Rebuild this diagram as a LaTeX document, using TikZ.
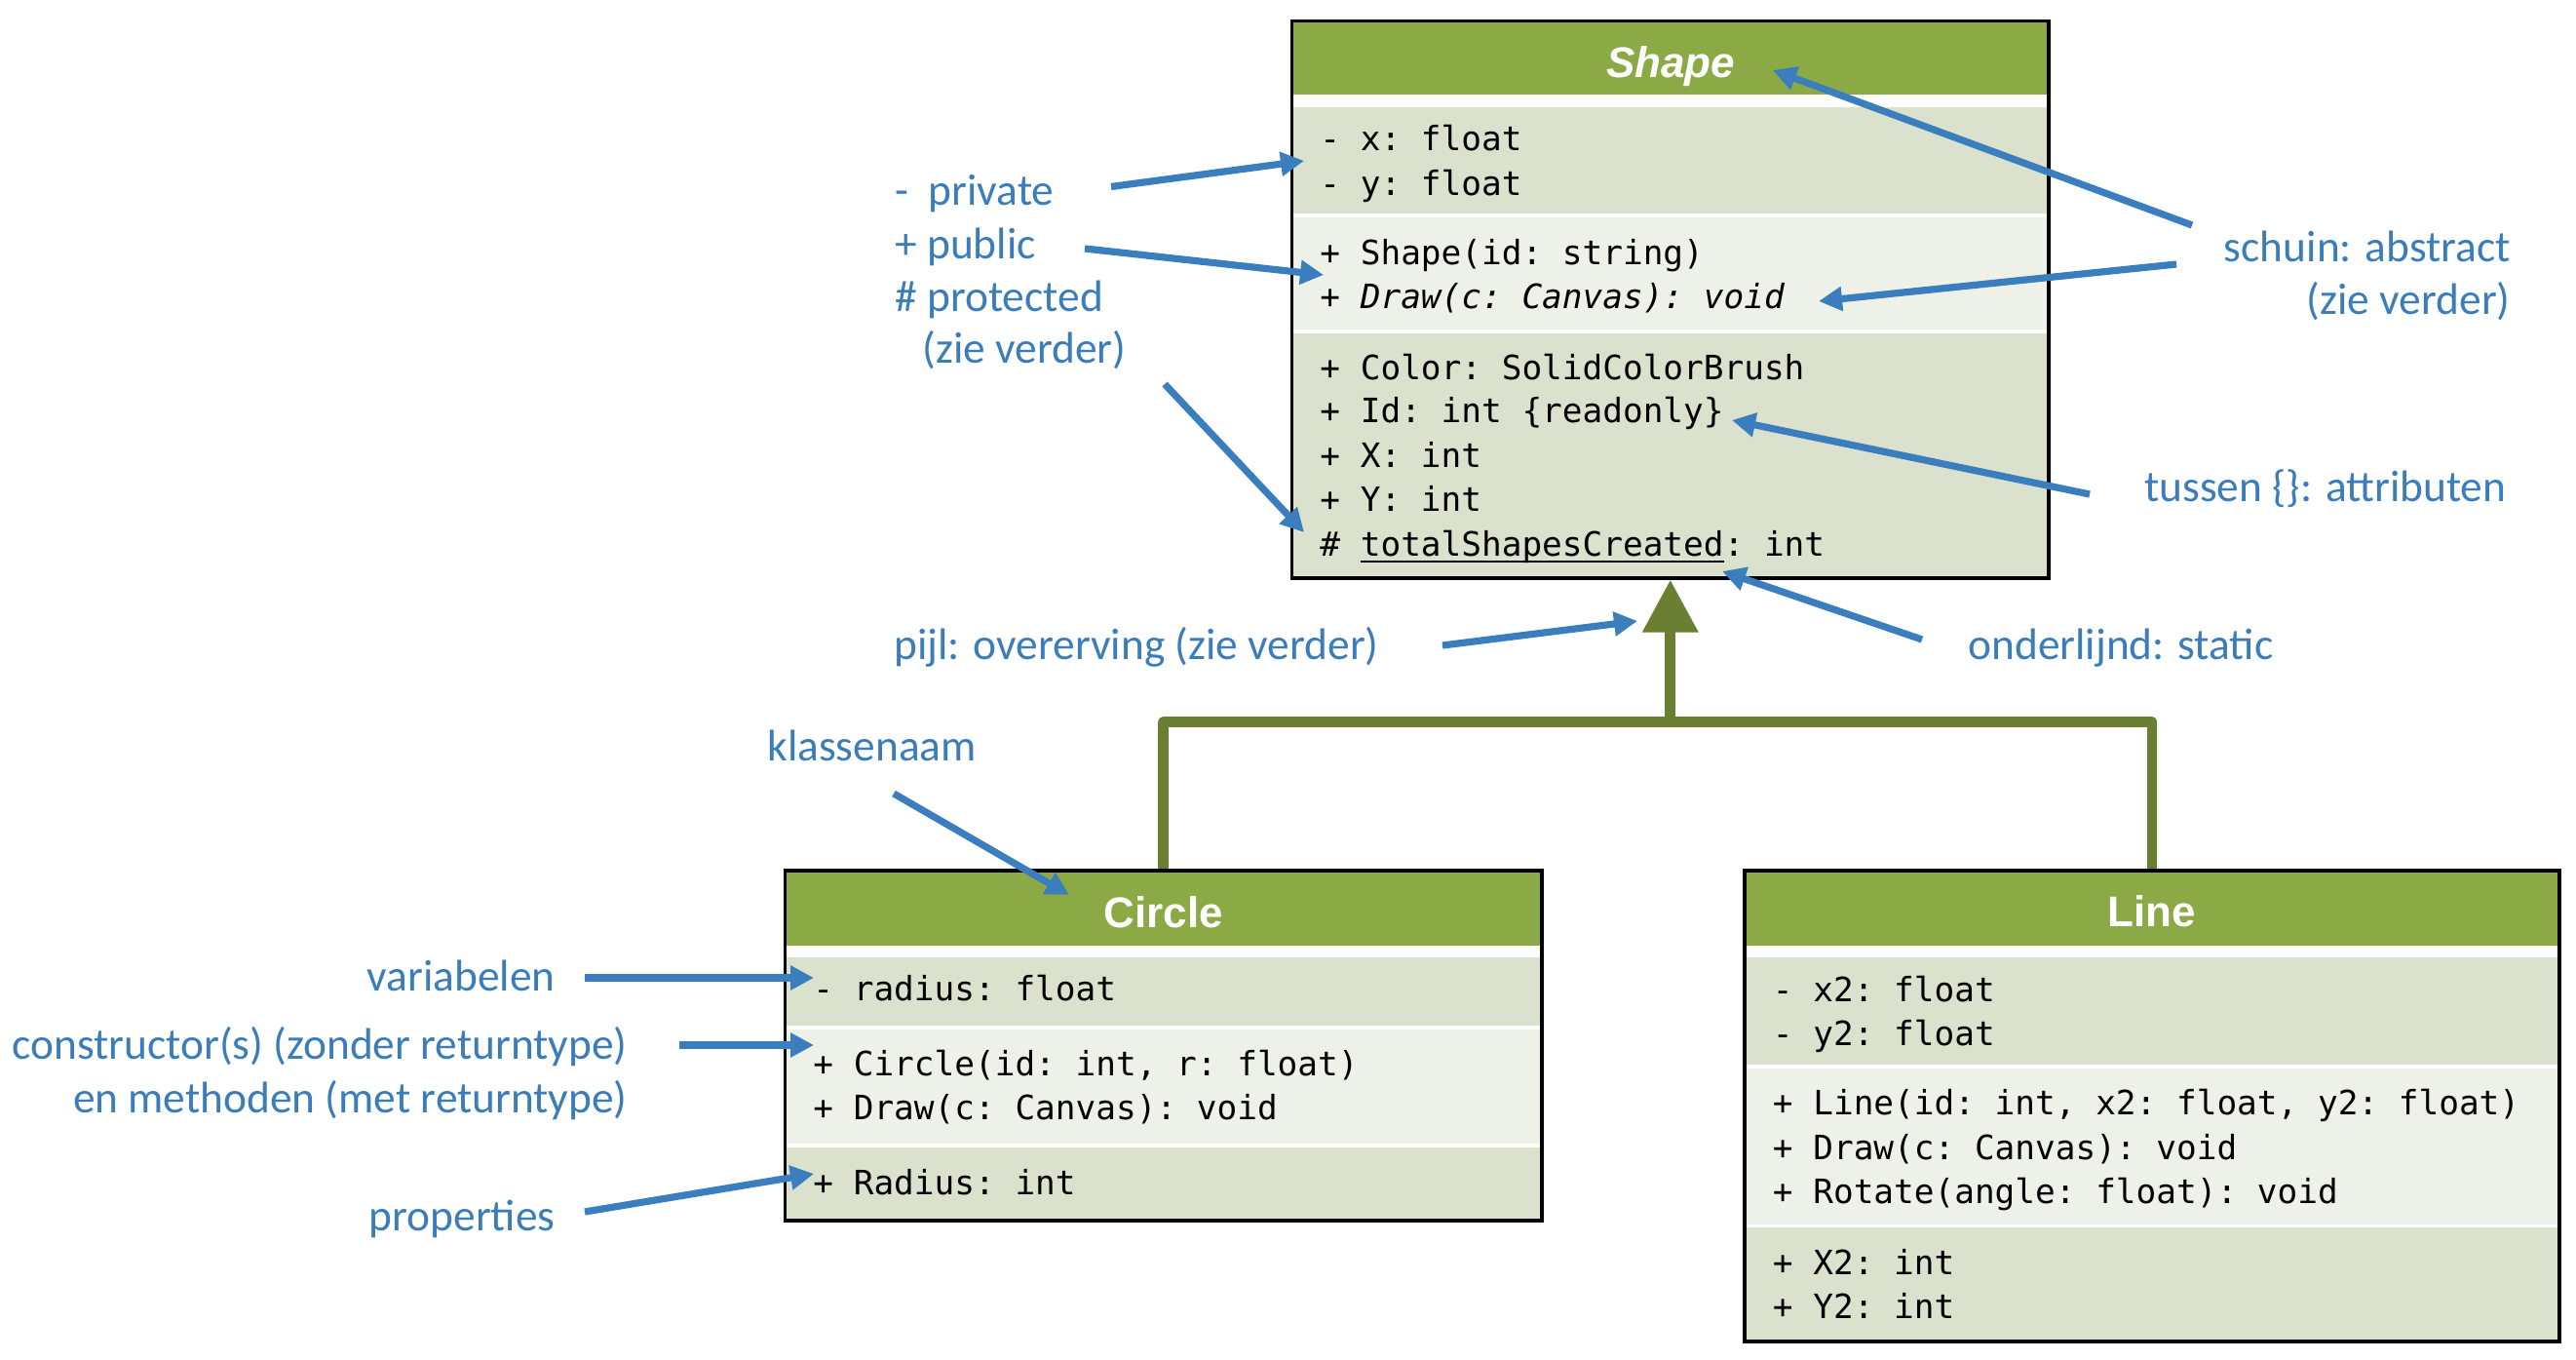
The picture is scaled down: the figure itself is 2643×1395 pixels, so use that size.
\documentclass[tikz,border=0pt]{standalone}
\usepackage{fontspec}
\setmainfont{Carlito}
\setmonofont{DejaVu Sans Mono}
\newfontfamily\titlefont{Liberation Sans}
\usetikzlibrary{arrows.meta,fit}
\definecolor{hdrgreen}{HTML}{8BAA45}
\definecolor{secdark}{HTML}{DAE1CD}
\definecolor{seclight}{HTML}{EEF1E8}
\definecolor{inhgreen}{HTML}{6A7F32}
\definecolor{arrowblue}{HTML}{3A7EBE}
\definecolor{labelblue}{HTML}{3A7DBA}
\newcommand\myul[1]{\setbox0\hbox{#1}\rlap{\rule[-3.3pt]{\wd0}{1pt}}\box0}
\tikzset{
  member/.style={anchor=mid west, inner sep=0pt, yshift=-2.5pt, font=\ttfamily\fontsize{17.2}{20}\selectfont, text=black},
  classtitle/.style={anchor=mid, inner sep=0pt, yshift=-3.5pt, font=\titlefont\bfseries\fontsize{22}{26}\selectfont, text=white},
  lbl/.style={inner sep=0pt, yshift=-4.5pt, font=\fontsize{22.7}{27}\selectfont, text=labelblue},
  note/.style={draw=arrowblue, line width=3.6pt, -{Triangle[length=12pt,width=12pt]}},
  inh/.style={draw=inhgreen, line width=5.35pt, line join=round},
  border/.style={draw=black, line width=1.7pt},
}
\begin{document}
\begin{tikzpicture}[x=0.5pt,y=-0.5pt]
\useasboundingbox (0,0) rectangle (2643,1395);

% ---------- Shape box ----------
\fill[white] (1325.5,21.7) rectangle (2102,593);
\fill[hdrgreen] (1325.5,21.7) rectangle (2102,97);
\fill[secdark] (1325.5,110) rectangle (2102,219.5);
\fill[seclight] (1325.5,223.4) rectangle (2102,338);
\fill[secdark] (1325.5,342) rectangle (2102,593);
\coordinate (shapeNW) at (1325.5,21.7);
\coordinate (shapeSE) at (2102,593);
\node[fit=(shapeNW)(shapeSE), inner sep=0pt, border] (shapebox) {};
\node[classtitle] (shapetitle) at (1714,68) {\itshape Shape};
\node[member] (sx) at (1354,145) {- x: float};
\node[member] (sy) at (1354,190.5) {- y: float};
\node[member] (sctor) at (1354,262) {+ Shape(id: string)};
\node[member] (sdraw) at (1354,307) {+ \itshape Draw(c: Canvas): void};
\node[member] (scolor) at (1354,380) {+ Color: SolidColorBrush};
\node[member] (sid) at (1354,424) {+ Id: int \{readonly\}};
\node[member] (sX) at (1354,470) {+ X: int};
\node[member] (sY) at (1354,515) {+ Y: int};
\node[member] (stotal) at (1354,561) {\# \myul{totalShapesCreated}: int};

% ---------- Circle box ----------
\fill[white] (805.5,893) rectangle (1582,1252);
\fill[hdrgreen] (805.5,893) rectangle (1582,970);
\fill[secdark] (805.5,982) rectangle (1582,1052);
\fill[seclight] (805.5,1056) rectangle (1582,1173);
\fill[secdark] (805.5,1177) rectangle (1582,1252);
\coordinate (circleNW) at (805.5,893);
\coordinate (circleSE) at (1582,1252);
\node[fit=(circleNW)(circleSE), inner sep=0pt, border] (circlebox) {};
\node[classtitle] (circletitle) at (1194,940) {Circle};
\node[member] (cradius) at (834,1017) {- radius: float};
\node[member] (cctor) at (834,1094) {+ Circle(id: int, r: float)};
\node[member] (cdraw) at (834,1139) {+ Draw(c: Canvas): void};
\node[member] (cprop) at (834,1216) {+ Radius: int};

% ---------- Line box ----------
\fill[white] (1790,893) rectangle (2626,1376);
\fill[hdrgreen] (1790,893) rectangle (2626,970);
\fill[secdark] (1790,982) rectangle (2626,1092);
\fill[seclight] (1790,1096) rectangle (2626,1256);
\fill[secdark] (1790,1259) rectangle (2626,1376);
\coordinate (lineNW) at (1790,893);
\coordinate (lineSE) at (2626,1376);
\node[fit=(lineNW)(lineSE), inner sep=0pt, border] (linebox) {};
\node[classtitle] (linetitle) at (2208,939) {Line};
\node[member] (lx2) at (1818.5,1018) {- x2: float};
\node[member] (ly2) at (1818.5,1063) {- y2: float};
\node[member] (lctor) at (1818.5,1134) {+ Line(id: int, x2: float, y2: float)};
\node[member] (ldraw) at (1818.5,1180) {+ Draw(c: Canvas): void};
\node[member] (lrot) at (1818.5,1225) {+ Rotate(angle: float): void};
\node[member] (lX2) at (1818.5,1298) {+ X2: int};
\node[member] (lY2) at (1818.5,1343) {+ Y2: int};

% ---------- inheritance ----------
\coordinate (junction) at (1713.75,740.3);
\draw[inh] (circlebox.north) |- (junction) -| (linebox.north);
\draw[inh, -{Triangle[length=27pt,width=27.5pt]}] (junction) -- (shapebox.south);

% ---------- labels ----------
\node[lbl, anchor=mid west] (lpriv) at (918,197) {-\ \ private};
\node[lbl, anchor=mid west] (lpub) at (918,252) {+ public};
\node[lbl, anchor=mid west] (lprot) at (918,306) {\# protected};
\node[lbl, anchor=mid west] (lzie1) at (946,359) {(zie verder)};
\node[lbl, anchor=mid east] (labs) at (2576,255) {schuin: abstract};
\node[lbl, anchor=mid east] (lzie2) at (2576,309) {(zie verder)};
\node[lbl, anchor=mid west] (lattr) at (2200,501) {tussen \{\}: attributen};
\node[lbl, anchor=mid west] (lstatic) at (2019,663) {onderlijnd: static};
\node[lbl, anchor=mid west] (linh) at (917,663) {pijl: overerving (zie verder)};
\node[lbl, anchor=mid west] (lname) at (787,767) {klassenaam};
\node[lbl, anchor=mid east] (lvar) at (570,1003) {variabelen};
\node[lbl, anchor=mid east] (lctor) at (644,1073) {constructor(s) (zonder returntype)};
\node[lbl, anchor=mid east] (lmeth) at (644,1128) {en methoden (met returntype)};
\node[lbl, anchor=mid east] (lprops) at (570,1249) {properties};

% ---------- annotation arrows ----------
\coordinate (a1s) at (1140,191.5);  \coordinate (a1t) at (1338,165);
\coordinate (a2s) at (1113,255);    \coordinate (a2t) at (1358,282);
\coordinate (a3s) at (1195,394);    \coordinate (a3t) at (1338,546);
\coordinate (a4s) at (2249,231);    \coordinate (a4t) at (1819,72);
\coordinate (a5s) at (2233,271);    \coordinate (a5t) at (1866,309);
\coordinate (a6s) at (2144,507);    \coordinate (a6t) at (1777,431);
\coordinate (a7s) at (1972,656);    \coordinate (a7t) at (1767,586);
\coordinate (a8s) at (1480,662);    \coordinate (a8t) at (1680,637);
\coordinate (a9s) at (917,814);     \coordinate (a9t) at (1097,918);
\coordinate (a10s) at (600,1003);   \coordinate (a10t) at (835,1003);
\coordinate (a11s) at (697,1072);   \coordinate (a11t) at (835,1072);
\coordinate (a12s) at (600,1243);   \coordinate (a12t) at (835,1204);
\foreach \i in {1,...,12} { \draw[note] (a\i s) -- (a\i t); }
\end{tikzpicture}
\end{document}
